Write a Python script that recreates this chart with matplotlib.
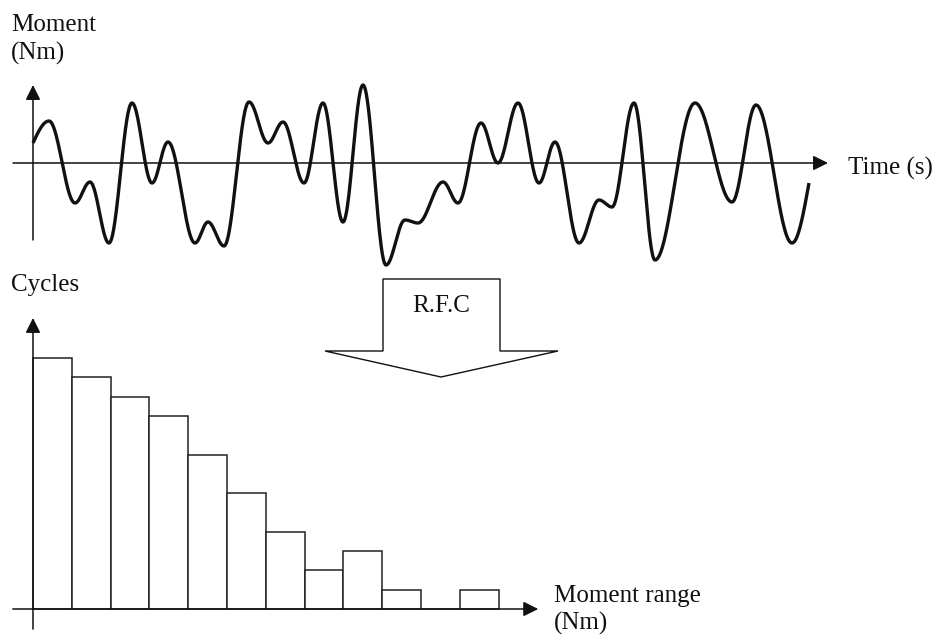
import numpy as np
import matplotlib
matplotlib.use("Agg")
import matplotlib.pyplot as plt
from matplotlib.patches import Polygon
from matplotlib.transforms import Affine2D

# ---------------- data ----------------
# turning points of the moment-time signal (time in s, moment in Nm)
time_s = [0.0, 1.6, 4.2, 5.7, 7.6, 9.9, 11.9, 13.5, 16.2, 17.5, 19.1, 21.6, 23.5,
          25.0, 27.1, 29.0, 31.0, 33.0, 35.3, 37.2, 38.5, 41.0, 42.5, 44.8, 46.5,
          48.5, 50.6, 52.2, 54.6, 56.6, 57.9, 60.1, 62.2, 66.2, 69.9, 72.3, 75.9, 77.6]
moment_nm = [2.0, 4.2, -4.0, -1.9, -8.0, 6.0, -2.0, 2.1, -8.0, -5.9, -8.3, 6.1, 2.0,
             4.1, -2.0, 6.0, -5.9, 7.8, -10.2, -5.7, -6.0, -1.9, -4.0, 4.0, 0.0,
             6.0, -2.0, 2.1, -8.0, -3.7, -4.4, 6.0, -9.7, 6.0, -3.9, 5.8, -8.0, -2.0]

# rainflow-count histogram
range_bins = list(range(12))
cycles = [13, 12, 11, 10, 8, 6, 4, 2, 3, 1, 0, 1]

# text labels
top_ylabel = ["Moment", "(Nm)"]
top_xlabel = "Time (s)"
bot_ylabel = "Cycles"
bot_xlabel = ["Moment range", "(Nm)"]
method_label = "R.F.C"

# ---------------- figure ----------------
W, H = 938, 635
fig = plt.figure(figsize=(W / 100, H / 100), dpi=100)
px = Affine2D().scale(1.0 / W, -1.0 / H).translate(0, 1) + fig.transFigure
FONT = ["Liberation Serif", "DejaVu Serif"]
INK = "#111111"


def smooth_curve(t, m, n=60):
    xs, ys = [], []
    last = len(t) - 2
    for i in range(len(t) - 1):
        u = np.linspace(0, 1, n, endpoint=(i == last))
        if i == 0:
            s = np.sin(u * np.pi / 2)
        elif i == last:
            s = 1 - np.cos(u * np.pi / 2)
        else:
            s = (1 - np.cos(u * np.pi)) / 2
        xs.append(t[i] + (t[i + 1] - t[i]) * u)
        ys.append(m[i] + (m[i + 1] - m[i]) * s)
    return np.concatenate(xs), np.concatenate(ys)


arrow_kw = dict(arrowstyle="-|>,head_length=0.6,head_width=0.3", mutation_scale=15,
                color=INK, lw=1.1, shrinkA=0, shrinkB=0)

# ---- top: signal ----
ax1 = fig.add_axes([0, 1 - 300 / H, 1, 300 / H])
ax1.set_xlim(-3.3, 90.5)
ax1.set_ylim(-13.7, 16.3)
ax1.axis("off")
tx, my = smooth_curve(time_s, moment_nm)
ax1.plot(tx, my, color=INK, lw=2.4, solid_capstyle="butt", zorder=3)
ax1.annotate("", xy=(79.5, 0), xytext=(-2.0, 0), arrowprops=arrow_kw, zorder=2)
ax1.annotate("", xy=(0, 7.8), xytext=(0, -7.7), arrowprops=arrow_kw, zorder=2)

# ---- bottom: histogram ----
ax2 = fig.add_axes([0, 0, 1, 335 / H])
ax2.set_xlim(-33 / 38.8, 905 / 38.8)
ax2.set_ylim((609 - 635) / 19.3, (609 - 300) / 19.3)
ax2.axis("off")
ax2.bar(range_bins, cycles, width=1.0, align="edge", facecolor="white",
        edgecolor="#222222", linewidth=1.1, zorder=1)
ax2.annotate("", xy=(13.02, 0), xytext=(-0.52, 0), arrowprops=arrow_kw, zorder=3)
ax2.annotate("", xy=(0, 15.08), xytext=(0, -1.04), arrowprops=arrow_kw, zorder=3)

# ---- block arrow ----
block = Polygon([(383, 279), (500, 279), (500, 351), (558, 351), (441, 377),
                 (325, 351), (383, 351)], closed=True, facecolor="white",
                edgecolor=INK, lw=1.0, transform=px, joinstyle="miter")
fig.add_artist(block)

# ---- texts ----
tkw = dict(transform=px, family=FONT, fontsize=18, color=INK, va="baseline")
fig.text(11, 31, top_ylabel[0], ha="left", **tkw)
fig.text(11, 60, top_ylabel[1], ha="left", **tkw)
fig.text(848, 175, top_xlabel, ha="left", **tkw)
fig.text(11, 291, bot_ylabel, ha="left", **tkw)
fig.text(554, 602, bot_xlabel[0], ha="left", **tkw)
fig.text(554, 630, bot_xlabel[1], ha="left", **tkw)
fig.text(441, 312, method_label, ha="center", **tkw)

fig.savefig("out.png", dpi=100, facecolor="white")
